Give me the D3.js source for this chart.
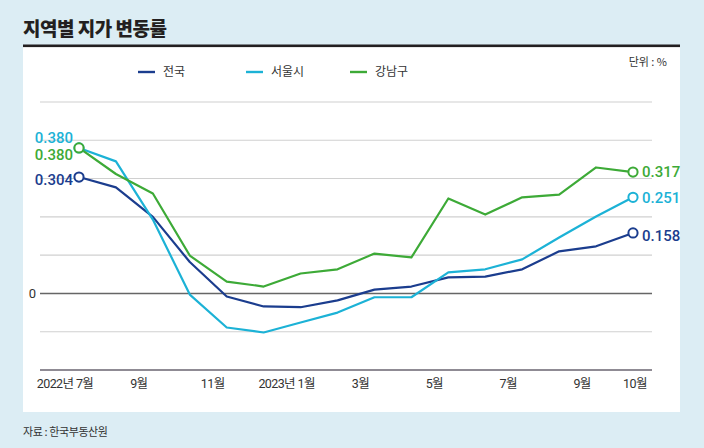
<!DOCTYPE html>
<html><head><meta charset="utf-8">
<script src="https://cdn.jsdelivr.net/npm/d3@7"></script>
<style>
body{margin:0;background:#dcedf4;}
svg{display:block}
</style></head><body>
<svg id="c" width="704" height="448"></svg>
<script>
// ---- data ----
const months = ["2022-07","2022-08","2022-09","2022-10","2022-11","2022-12","2023-01","2023-02","2023-03","2023-04","2023-05","2023-06","2023-07","2023-08","2023-09","2023-10"];
const tickIndex = [0,2,4,6,8,10,12,14,15];
const tickLabels = ["2022년 7월","9월","11월","2023년 1월","3월","5월","7월","9월","10월"];
const seriesNames = ["전국","서울시","강남구"];
const national = [0.304,0.277,0.200,0.082,-0.008,-0.034,-0.036,-0.018,0.010,0.018,0.042,0.044,0.063,0.110,0.123,0.158];
const seoul    = [0.380,0.345,0.193,-0.003,-0.089,-0.102,-0.076,-0.050,-0.010,-0.010,0.055,0.063,0.089,0.146,0.201,0.251];
const gangnam  = [0.380,0.312,0.261,0.099,0.031,0.018,0.052,0.063,0.104,0.094,0.248,0.206,0.251,0.258,0.329,0.317];
const yTicks = [-0.1,0,0.1,0.2,0.3,0.4,0.5];
const title = "지역별 지가 변동률";
const unitText = "단위 : %";
const sourceText = "자료 : 한국부동산원";

const colors = ["#1b3d8e","#1cb2d6","#3daa37"];
const series = [national, seoul, gangnam];

const svg = d3.select("#c");
const numFont = "Roboto,'Noto Sans',sans-serif";
const krFont = "'Noto Sans CJK KR','Noto Sans',sans-serif";

// background panel
svg.append("rect").attr("x",0).attr("y",0).attr("width",704).attr("height",448).attr("fill","#dcedf4");
svg.append("rect").attr("x",23).attr("y",46).attr("width",657).attr("height",366).attr("fill","#fff");
svg.append("rect").attr("x",23).attr("y",44.5).attr("width",657).attr("height",2.6).attr("fill","#231f20");
svg.append("text").attr("x",23).attr("y",36).text(title)
  .attr("font-family",krFont).attr("font-weight",900).attr("font-size",19).attr("fill","#231f20").attr("letter-spacing","-0.5");

// scales
const x = d3.scaleLinear().domain([0, months.length-1]).range([79, 633]);
const y = d3.scaleLinear().domain([-0.2, 0.5]).range([370, 102]);

// gridlines
const g = svg.append("g");
g.selectAll("line.grid").data(yTicks).join("line")
  .attr("x1",40).attr("x2",652)
  .attr("y1",d=>y(d)).attr("y2",d=>y(d))
  .attr("stroke",d=>d===0?"#666":"#d0d0d0")
  .attr("stroke-width",d=>d===0?1.4:1.1);
// bottom axis line
g.append("line").attr("x1",40).attr("x2",652).attr("y1",y(-0.2)).attr("y2",y(-0.2))
  .attr("stroke","#6a6470").attr("stroke-width",1.4);

// zero label
svg.append("text").attr("x",36).attr("y",y(0)).attr("dy","0.36em").attr("text-anchor","end")
  .text("0").attr("font-family",numFont).attr("font-size",13).attr("fill","#333");

// x tick labels
svg.selectAll("text.xt").data(tickIndex).join("text")
  .attr("x",(d,i)=> i===tickIndex.length-1 ? x(d)+2 : x(d)-14)
  .attr("y",388).attr("text-anchor","middle")
  .text((d,i)=>tickLabels[i])
  .attr("font-family",numFont+","+krFont).attr("font-size",12.5).attr("fill","#333").attr("letter-spacing","-0.6");

// lines
const line = d3.line().x((d,i)=>x(i)).y(d=>y(d));
series.forEach((s,k)=>{
  svg.append("path").datum(s).attr("d",line).attr("fill","none")
    .attr("stroke",colors[k]).attr("stroke-width",2.2).attr("stroke-linejoin","round");
});
// end circles
series.forEach((s,k)=>{
  [0, s.length-1].forEach(i=>{
    svg.append("circle").attr("cx",x(i)).attr("cy",y(s[i])).attr("r",4.6)
      .attr("fill","#fff").attr("stroke",colors[k]).attr("stroke-width",2);
  });
});
// start labels
const startOffsets = [3, -10, 7];
series.forEach((s,k)=>{
  svg.append("text").attr("x",x(0)-6).attr("y",y(s[0])+startOffsets[k]).attr("dy","0.36em")
    .attr("text-anchor","end").text(s[0].toFixed(3))
    .attr("font-family",numFont).attr("font-weight",500).attr("font-size",15).attr("fill",colors[k]);
});
// end labels
const endOffsets = [2.5, 0, 0];
series.forEach((s,k)=>{
  const i = s.length-1;
  svg.append("text").attr("x",x(i)+9).attr("y",y(s[i])+endOffsets[k]).attr("dy","0.36em")
    .text(s[i].toFixed(3))
    .attr("font-family",numFont).attr("font-weight",500).attr("font-size",15).attr("fill",colors[k]);
});

// legend
const legX = [138, 246, 350];
seriesNames.forEach((n,k)=>{
  svg.append("line").attr("x1",legX[k]).attr("x2",legX[k]+17).attr("y1",72).attr("y2",72)
    .attr("stroke",colors[k]).attr("stroke-width",2.4);
  svg.append("text").attr("x",legX[k]+25).attr("y",72).attr("dy","0.36em").text(n)
    .attr("font-family",krFont).attr("font-size",12).attr("fill","#333");
});
svg.append("text").attr("x",667).attr("y",66).attr("text-anchor","end").text(unitText)
  .attr("font-family",krFont).attr("font-size",11).attr("fill","#333");
svg.append("text").attr("x",23).attr("y",436).text(sourceText)
  .attr("font-family",krFont).attr("font-size",11).attr("fill","#333").attr("letter-spacing","-0.4");
</script>
</body></html>
